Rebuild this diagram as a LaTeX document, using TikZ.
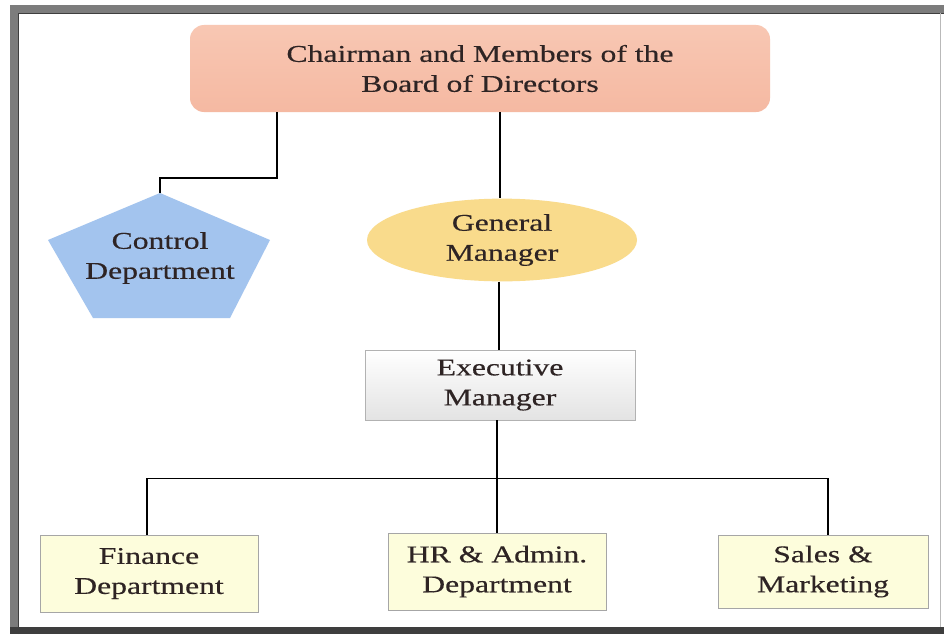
\documentclass[tikz,border=0pt]{standalone}
\usepackage{fontspec}
\setmainfont{Liberation Serif}[FakeStretch=1.32, FakeBold=0.4]
\usetikzlibrary{shapes.geometric,calc}

\definecolor{framegray}{HTML}{7C7C7C}
\definecolor{framedark}{HTML}{3E3E3E}
\definecolor{boardfill}{HTML}{F5B9A2}
\definecolor{boardtop}{HTML}{F8C7B3}
\definecolor{ctrlfill}{HTML}{A3C4EE}
\definecolor{gmfill}{HTML}{F9DB8C}
\definecolor{deptfill}{HTML}{FDFDDC}
\definecolor{inktext}{HTML}{2E2424}

\tikzset{
  every node/.style={font=\fontsize{24}{30}\selectfont, text=inktext, align=center},
  link/.style={draw=black, line width=1.4pt},
  boardbox/.style={rounded corners=14pt, minimum width=580pt, minimum height=87pt,
    top color=boardtop, bottom color=boardfill, draw=none},
  gmbox/.style={ellipse, minimum width=270pt, minimum height=80pt, fill=gmfill, draw=none},
  execbox/.style={minimum width=270pt, minimum height=70pt, top color=white,
    bottom color=gray!22, draw=gray!60, line width=0.6pt},
  deptbox/.style={minimum width=218pt, minimum height=77pt, fill=deptfill,
    draw=gray!70, line width=0.8pt},
}

\begin{document}
\begin{tikzpicture}[x=1pt, y=-1pt]
  \useasboundingbox (0,0) rectangle (944,634);
  \fill[white] (0,0) rectangle (944,634);

  % outer frame
  \fill[framegray] (10,5) rectangle (944,13);
  \fill[framegray] (10,5) rectangle (19,634);
  \draw[framedark, line width=1.2pt] (18.5,634) -- (18.5,13.5) -- (944,13.5);
  \fill[framedark] (10,627) rectangle (944,634);
  \draw[gray!55, line width=0.8pt] (940.5,13) -- (940.5,627);

  % boxes
  \node[boardbox] (board) at (480,68.5) {Chairman and Members of the\\Board of Directors};

  \fill[ctrlfill] (160,193) -- (270,240) -- (230,318) -- (93,318) -- (48,240) -- cycle;
  \coordinate (ctrltop) at (160,193);
  \node (ctrl) at (160,258) {Control\\Department};

  \node[gmbox] (gm) at (502,240) {General\\Manager};
  \node[execbox] (exec) at (500,385) {Executive\\Manager};

  \node[deptbox] (fin) at (149,573.5) {Finance\\Department};
  \node[deptbox] (hr) at (497,571.5) {HR \& Admin.\\Department};
  \node[deptbox, minimum width=210pt, minimum height=73pt] (sales) at (823,571.5) {Sales \&\\Marketing};

  % connectors
  \draw[link] ([xshift=-203pt]board.south) |- ($(ctrltop)+(0,-15)$) -- (ctrltop);
  \draw[link] ([xshift=-2pt]board.south -| gm.north) -- ([xshift=-2pt]gm.north);
  \draw[link] ([xshift=-3pt]gm.south) -- ([xshift=-3pt]gm.south |- exec.north);
  \draw[link] (exec.south -| hr.north) -- (hr.north);
  \coordinate (bus) at ($(exec.south)+(0,58)$);
  \draw[link] ([xshift=-2pt]fin.north) |- (bus) -| ([xshift=5pt]sales.north);
\end{tikzpicture}
\end{document}
